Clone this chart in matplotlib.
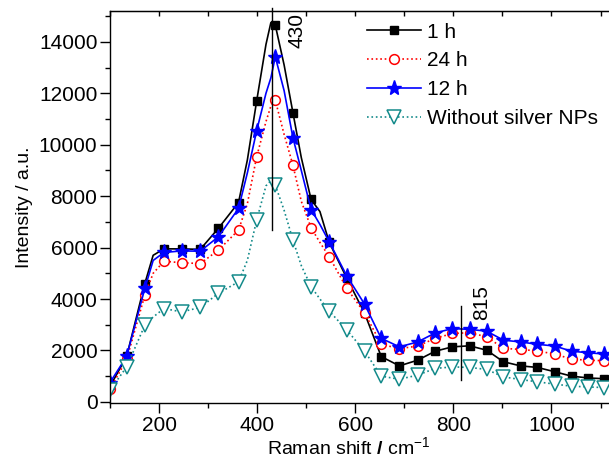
import numpy as np
import matplotlib
matplotlib.use("Agg")
import matplotlib.pyplot as plt
from matplotlib.ticker import MultipleLocator, NullFormatter

plt.rcParams['font.family'] = ['Liberation Sans', 'DejaVu Sans']
plt.rcParams['mathtext.fontset'] = 'custom'
plt.rcParams['mathtext.rm'] = 'Liberation Sans'
plt.rcParams['mathtext.bf'] = 'Liberation Sans:bold'

# raman shift (cm-1) of the marked points
shift = [100, 134, 171, 210, 246, 284, 321, 362, 399, 437, 473, 510, 547, 583,
         619, 653, 690, 727, 763, 798, 833, 868, 902, 937, 971, 1007, 1041, 1075, 1108]
# extra points between the markers where the spectra have structure
shift_extra = [188, 380, 418, 428, 455, 490, 528, 1120]

one_h = [600, 1770, 4600, 5950, 5950, 5930, 6750, 7750, 11700, 14650, 11240, 7870, 6200, 4800,
         3450, 1760, 1400, 1620, 1970, 2140, 2180, 2010, 1560, 1400, 1340, 1170, 1000, 930, 900]
one_h_extra = [5700, 9400, 13900, 14750, 13100, 9500, 7400, 850]

twelve_h = [750, 1770, 4410, 5810, 5870, 5860, 6420, 7520, 10540, 13420, 10270, 7480, 6220, 4890,
            3800, 2470, 2140, 2330, 2680, 2850, 2820, 2750, 2400, 2330, 2240, 2170, 1970, 1910, 1860]
twelve_h_extra = [5500, 8900, 12000, 12600, 12100, 9000, 6900, 1830]

twentyfour_h = [500, 1650, 4150, 5470, 5410, 5380, 5900, 6680, 9530, 11730, 9200, 6770, 5640, 4410,
                3460, 2240, 2070, 2170, 2470, 2660, 2690, 2530, 2080, 2040, 1980, 1860, 1660, 1620, 1600]
twentyfour_h_extra = [5000, 7700, 10900, 11500, 10400, 7800, 6200, 1580]

no_silver = [455, 1360, 2980, 3630, 3500, 3670, 4220, 4670, 7070, 8430, 6290, 4480, 3530, 2790,
             1970, 1000, 880, 1040, 1300, 1360, 1340, 1260, 970, 870, 780, 690, 610, 580, 555]
no_silver_extra = [3300, 5500, 8400, 8600, 7450, 5300, 4000, 540]

peaks = [430, 815]


def spectrum(marks, extra):
    x = np.array(shift + shift_extra, dtype=float)
    y = np.array(marks + extra, dtype=float)
    order = np.argsort(x)
    mark_idx = [i for i, o in enumerate(order) if o < len(shift)]
    return x[order], y[order], mark_idx


fig = plt.figure(figsize=(6.09, 4.62), dpi=100)
ax = fig.add_axes([0.1806, 0.1268, 0.8256, 0.8494])

series = [
    (one_h, one_h_extra, "1 h", dict(color='black', ls='-', lw=1.2, marker='s', ms=6,
                                      mfc='black', mec='black')),
    (twentyfour_h, twentyfour_h_extra, "24 h", dict(color='#ff0000', ls=':', lw=1.2, marker='o', ms=7,
                                                    mfc='white', mec='#ff0000', mew=1.1)),
    (twelve_h, twelve_h_extra, "12 h", dict(color='#0000ff', ls='-', lw=1.2, marker='*', ms=11,
                                            mfc='#0000ff', mec='#0000ff')),
    (no_silver, no_silver_extra, "Without silver NPs", dict(color='#138a8a', ls=':', lw=1.2, marker='v', ms=10,
                                                            mfc='white', mec='#138a8a', mew=1.1)),
]
for marks, extra, label, style in series:
    x, y, idx = spectrum(marks, extra)
    ax.plot(x, y, markevery=idx, label=label, **style)

# peak markers
ax.plot([peaks[0], peaks[0]], [6700, 15320], color='black', lw=1.0, clip_on=False)
ax.text(482, 14450, str(peaks[0]), rotation=90, ha='center', va='center', fontsize=15)
ax.plot([peaks[1], peaks[1]], [870, 3720], color='black', lw=1.0)
ax.text(858, 3880, str(peaks[1]), rotation=90, ha='center', va='center', fontsize=15)

ax.set_xlim(100, 1125)
ax.set_ylim(-60, 15200)
ax.xaxis.set_major_locator(MultipleLocator(200))
ax.xaxis.set_minor_locator(MultipleLocator(100))
ax.yaxis.set_major_locator(MultipleLocator(2000))
ax.yaxis.set_minor_locator(MultipleLocator(1000))
ax.tick_params(which='both', labelsize=15, width=1.0, direction='out', pad=2)
ax.tick_params(which='major', length=7)
ax.tick_params(which='minor', length=3.5)
for s in ax.spines.values():
    s.set_linewidth(1.0)

# inward ticks along the top frame
top = ax.secondary_xaxis('top')
top.xaxis.set_major_locator(MultipleLocator(200))
top.xaxis.set_minor_locator(MultipleLocator(100))
top.xaxis.set_major_formatter(NullFormatter())
top.tick_params(which='both', direction='in', length=3.5, width=1.0)

ax.set_xlabel("Raman shift $\\mathbf{/}$ cm$^{-1}$", fontsize=14, labelpad=1)
ax.xaxis.set_label_coords(0.475, -0.085)
ax.set_ylabel("Intensity / a.u.", fontsize=14, labelpad=4)

ax.legend(loc='upper left', bbox_to_anchor=(0.6026, 0.951), bbox_transform=fig.transFigure,
          frameon=False, fontsize=15, handlelength=2.6, handletextpad=0.3,
          labelspacing=0.47, borderpad=0, borderaxespad=0)

fig.savefig("out.png", dpi=100)
